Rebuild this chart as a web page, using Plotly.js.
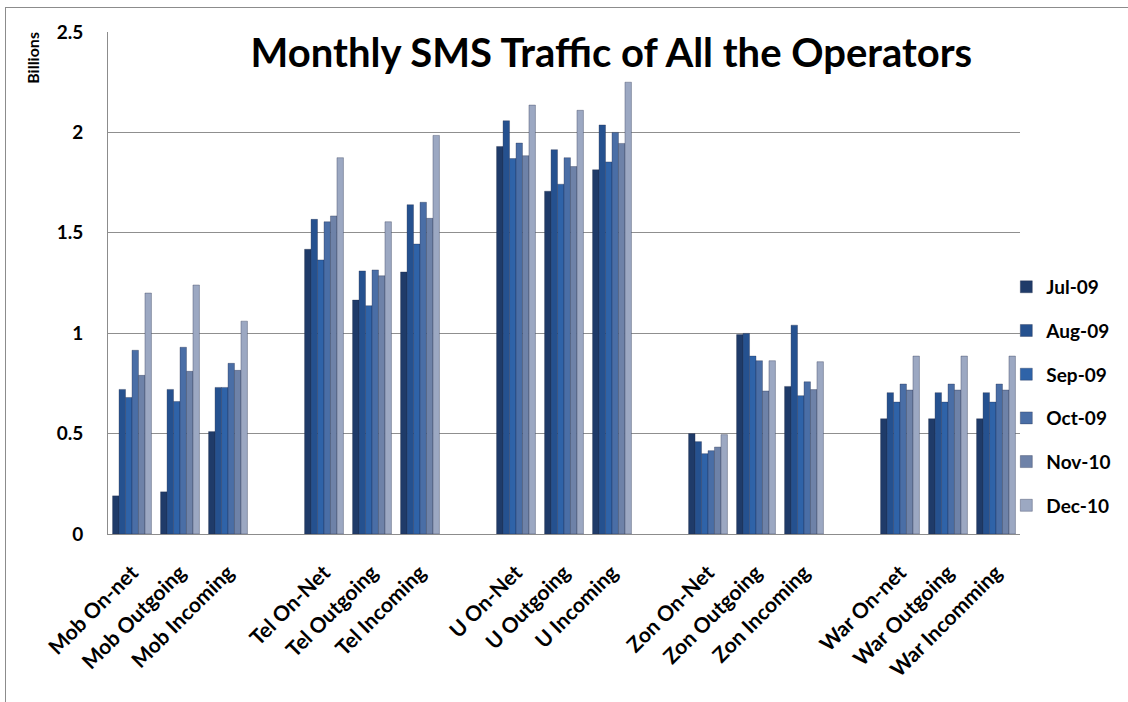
<!DOCTYPE html>
<html>
<head>
<meta charset="utf-8">
<script src="https://cdn.plot.ly/plotly-3.0.1.min.js"></script>
<style>
  html, body { margin: 0; padding: 0; background: #fff; }
  #frame { position: absolute; left: 5px; top: 7px; width: 1200px; height: 800px;
           border-left: 1.5px solid #8c8c8c; border-top: 1.5px solid #8c8c8c; }
  #chart { position: absolute; left: 0; top: 0; width: 1128px; height: 702px; }
</style>
</head>
<body>
<div id="frame"></div>
<div id="chart"></div>
<script>
// Categories (blank entries are the spacer slots between operators)
const categories = [
  "Mob On-net", "Mob Outgoing", "Mob Incoming", " ",
  "Tel On-Net", "Tel Outgoing", "Tel Incoming", "  ",
  "U On-Net", "U Outgoing", "U Incoming", "   ",
  "Zon On-Net", "Zon Outgoing", "Zon Incoming", "    ",
  "War On-net", "War Outgoing", "War Incomming"
];

const seriesNames = ["Jul-09", "Aug-09", "Sep-09", "Oct-09", "Nov-10", "Dec-10"];

const jul09 = [0.19, 0.21, 0.51, null, 1.418, 1.165, 1.305, null, 1.93, 1.707, 1.814, null, 0.50, 0.993, 0.735, null, 0.574, 0.574, 0.574];
const aug09 = [0.72, 0.72, 0.73, null, 1.567, 1.31, 1.64, null, 2.058, 1.914, 2.037, null, 0.46, 0.999, 1.04, null, 0.704, 0.704, 0.704];
const sep09 = [0.68, 0.66, 0.73, null, 1.365, 1.137, 1.444, null, 1.87, 1.742, 1.853, null, 0.40, 0.886, 0.689, null, 0.657, 0.657, 0.657];
const oct09 = [0.915, 0.93, 0.85, null, 1.555, 1.315, 1.652, null, 1.947, 1.874, 2.0, null, 0.415, 0.863, 0.758, null, 0.747, 0.747, 0.747];
const nov10 = [0.79, 0.81, 0.815, null, 1.584, 1.286, 1.572, null, 1.884, 1.83, 1.945, null, 0.433, 0.712, 0.719, null, 0.717, 0.717, 0.717];
const dec10 = [1.2, 1.24, 1.06, null, 1.874, 1.555, 1.985, null, 2.136, 2.11, 2.25, null, 0.495, 0.863, 0.858, null, 0.886, 0.886, 0.886];

const yTickVals = [0, 0.5, 1, 1.5, 2, 2.5];
const yTickText = ["0", "0.5", "1", "1.5", "2", "2.5"];

const seriesValues = [jul09, aug09, sep09, oct09, nov10, dec10];
const colors = ["#1f3b69", "#25518f", "#2f63a8", "#4a6ea6", "#6e82a8", "#9ca8c2"];

const font = "Lato, 'Open Sans', 'DejaVu Sans', sans-serif";

const traces = seriesNames.map((name, i) => ({
  type: "bar",
  name: name,
  x: categories,
  y: seriesValues[i],
  legendgroup: name,
  marker: { color: colors[i], line: { color: "rgba(30,40,70,0.55)", width: 0.6 } },
  hoverinfo: "x+y+name"
}));

const layout = {
  width: 1128,
  height: 702,
  paper_bgcolor: "rgba(0,0,0,0)",
  plot_bgcolor: "rgba(0,0,0,0)",
  margin: { l: 108, r: 108, t: 32, b: 168 },
  barmode: "group",
  bargap: 0.19,
  bargroupgap: 0,
  showlegend: true,
  font: { family: font, color: "#000" },
  title: {
    text: "Monthly SMS Traffic of All the Operators",
    font: { family: font, size: 40, color: "#000", weight: 700 },
    x: 0.542, xanchor: "center",
    y: 0.925, yanchor: "middle"
  },
  xaxis: {
    type: "category",
    tickangle: -45,
    tickfont: { family: font, size: 21, color: "#000", weight: 700 },
    ticks: "",
    ticklabelstandoff: 17,
    showline: true, linecolor: "#8c8c8c", linewidth: 1,
    showgrid: false,
    fixedrange: true
  },
  yaxis: {
    range: [0, 2.5],
    tickvals: yTickVals,
    ticktext: yTickText,
    tickfont: { family: font, size: 19, color: "#000", weight: 700 },
    ticks: "",
    ticklabelstandoff: 20,
    showline: true, linecolor: "#8c8c8c", linewidth: 1,
    showgrid: true, gridcolor: "#8f8f8f", gridwidth: 1,
    zeroline: false,
    fixedrange: true
  },
  legend: {
    x: 0.985, xanchor: "left",
    y: 0.53, yanchor: "top",
    font: { family: font, size: 19, color: "#000", weight: 700 },
    tracegroupgap: 16,
    traceorder: "grouped",
    itemwidth: 30,
    bgcolor: "rgba(0,0,0,0)"
  },
  annotations: [{
    text: "Billions",
    xref: "paper", yref: "paper",
    x: -0.083, y: 1.005,
    xanchor: "center", yanchor: "top",
    textangle: -90,
    showarrow: false,
    font: { family: font, size: 16, color: "#000", weight: 700 }
  }]
};

Plotly.newPlot("chart", traces, layout, { displayModeBar: false, staticPlot: true });
</script>
</body>
</html>
